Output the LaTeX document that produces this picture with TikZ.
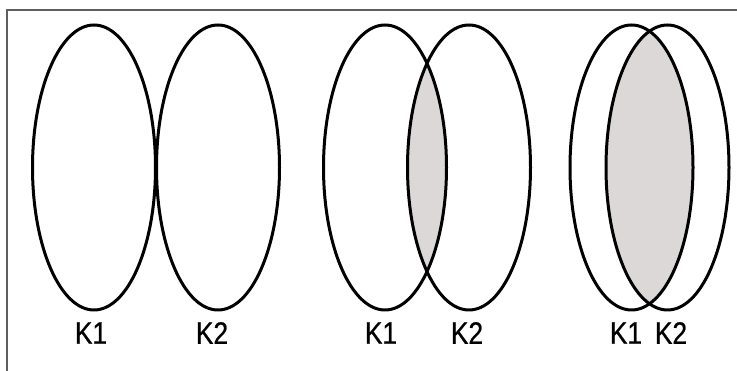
\documentclass[tikz,border=0pt]{standalone}
\usepackage{fontspec}
\setmainfont{Liberation Sans}
\newfontfamily\lblfont[FakeStretch=0.85,FakeBold=0.6]{Liberation Sans}
\usetikzlibrary{positioning}
\definecolor{overlapgray}{RGB}{221,216,216}
\definecolor{framegray}{RGB}{95,95,95}
\newcommand{\erx}{61.5}
\newcommand{\ery}{142.5}

\begin{document}
\begin{tikzpicture}[x=1pt, y=1pt,
    set/.style={draw=black, line width=3pt},
    inter/.style={fill=overlapgray},
    lbl/.style={inner sep=0pt, font=\lblfont\fontsize{31}{34}\selectfont},
    frameline/.style={draw=framegray, line width=1.4pt}]
    \useasboundingbox (0,0) rectangle (737,371);
    \draw[frameline] (737,361) -- (7,361) -- (7,0);

    % disjoint sets
    \draw[set] (94,203.5) ellipse [x radius=\erx, y radius=\ery];
    \draw[set] (218,203.5) ellipse [x radius=\erx, y radius=\ery];
    \node[lbl] (k1a) at (91,38) {K1};
    \node[lbl] (k2a) at (212,38) {K2};

    % partial overlap
    \begin{scope}
        \clip (385,203.5) ellipse [x radius=\erx, y radius=\ery];
        \path[inter] (469,203.5) ellipse [x radius=\erx, y radius=\ery];
    \end{scope}
    \draw[set] (385,203.5) ellipse [x radius=\erx, y radius=\ery];
    \draw[set] (469,203.5) ellipse [x radius=\erx, y radius=\ery];
    \node[lbl] (k1b) at (381,38) {K1};
    \node[lbl] (k2b) at (467,38) {K2};

    % large overlap
    \begin{scope}
        \clip (631.5,203.5) ellipse [x radius=\erx, y radius=\ery];
        \path[inter] (667.5,203.5) ellipse [x radius=\erx, y radius=\ery];
    \end{scope}
    \draw[set] (631.5,203.5) ellipse [x radius=\erx, y radius=\ery];
    \draw[set] (667.5,203.5) ellipse [x radius=\erx, y radius=\ery];
    \node[lbl] (k1c) at (626,38) {K1};
    \node[lbl] (k2c) at (671,38) {K2};
\end{tikzpicture}
\end{document}
